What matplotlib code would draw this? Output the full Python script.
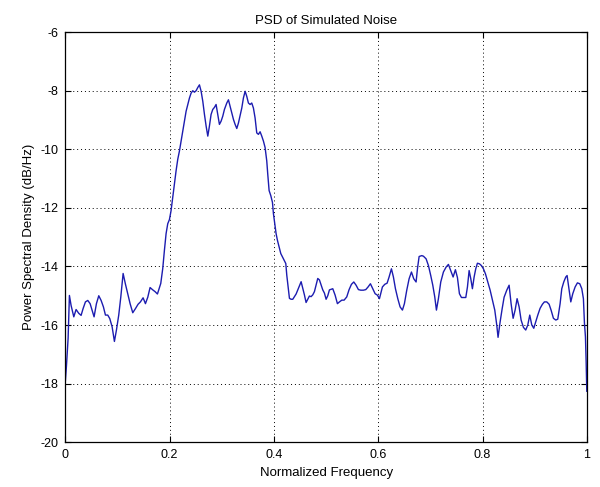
import numpy as np
import matplotlib
matplotlib.use("Agg")
import matplotlib.pyplot as plt

plt.rcParams['font.family'] = ['Liberation Sans', 'DejaVu Sans']
plt.rcParams['axes.unicode_minus'] = False

# normalized frequency and PSD (dB/Hz)
freq = [
    0.0000, 0.0020, 0.0052, 0.0077, 0.0109, 0.0161, 0.0205, 0.0256, 0.0301, 0.0339,
    0.0384, 0.0429, 0.0474, 0.0512, 0.0550, 0.0595, 0.0640, 0.0685, 0.0729, 0.0768,
    0.0812, 0.0851, 0.0896, 0.0940, 0.0979, 0.1023, 0.1062, 0.1107, 0.1151, 0.1196,
    0.1241, 0.1292, 0.1343, 0.1394, 0.1439, 0.1490, 0.1535, 0.1580, 0.1624, 0.1676,
    0.1720, 0.1765, 0.1829, 0.1867, 0.1899, 0.1931, 0.1963, 0.1995, 0.2027, 0.2059,
    0.2091, 0.2123, 0.2155, 0.2187, 0.2219, 0.2251, 0.2283, 0.2315, 0.2347, 0.2379,
    0.2411, 0.2443, 0.2475, 0.2507, 0.2539, 0.2571, 0.2603, 0.2635, 0.2667, 0.2699,
    0.2731, 0.2762, 0.2794, 0.2826, 0.2858, 0.2890, 0.2922, 0.2954, 0.2986, 0.3018,
    0.3050, 0.3095, 0.3127, 0.3159, 0.3191, 0.3223, 0.3255, 0.3287, 0.3319, 0.3351,
    0.3383, 0.3414, 0.3447, 0.3478, 0.3510, 0.3542, 0.3574, 0.3606, 0.3638, 0.3670,
    0.3702, 0.3734, 0.3766, 0.3798, 0.3830, 0.3862, 0.3881, 0.3907, 0.3939, 0.3971,
    0.3990, 0.4016, 0.4041, 0.4067, 0.4099, 0.4131, 0.4162, 0.4194, 0.4227, 0.4246,
    0.4271, 0.4297, 0.4329, 0.4361, 0.4393, 0.4425, 0.4457, 0.4489, 0.4521, 0.4553,
    0.4584, 0.4616, 0.4648, 0.4680, 0.4712, 0.4744, 0.4776, 0.4808, 0.4840, 0.4872,
    0.4904, 0.4936, 0.4968, 0.5000, 0.5032, 0.5064, 0.5128, 0.5173, 0.5217, 0.5256,
    0.5301, 0.5345, 0.5396, 0.5441, 0.5486, 0.5531, 0.5575, 0.5620, 0.5665, 0.5716,
    0.5761, 0.5805, 0.5850, 0.5895, 0.5940, 0.5984, 0.6023, 0.6048, 0.6080, 0.6125,
    0.6170, 0.6208, 0.6253, 0.6291, 0.6330, 0.6375, 0.6419, 0.6464, 0.6502, 0.6547,
    0.6592, 0.6637, 0.6681, 0.6726, 0.6752, 0.6784, 0.6835, 0.6867, 0.6918, 0.6963,
    0.7007, 0.7046, 0.7084, 0.7116, 0.7154, 0.7199, 0.7250, 0.7302, 0.7346, 0.7391,
    0.7436, 0.7480, 0.7519, 0.7557, 0.7596, 0.7640, 0.7679, 0.7711, 0.7743, 0.7775,
    0.7806, 0.7839, 0.7870, 0.7902, 0.7941, 0.7979, 0.8017, 0.8056, 0.8101, 0.8146,
    0.8190, 0.8235, 0.8273, 0.8298, 0.8337, 0.8376, 0.8414, 0.8465, 0.8510, 0.8548,
    0.8587, 0.8625, 0.8663, 0.8702, 0.8740, 0.8785, 0.8829, 0.8868, 0.8906, 0.8945,
    0.8983, 0.9021, 0.9060, 0.9104, 0.9149, 0.9187, 0.9232, 0.9277, 0.9315, 0.9360,
    0.9405, 0.9443, 0.9488, 0.9520, 0.9558, 0.9597, 0.9622, 0.9661, 0.9693, 0.9731,
    0.9776, 0.9820, 0.9865, 0.9904, 0.9935, 0.9955, 0.9974, 0.9987, 1.0000,
]
psd = [
    -17.90, -17.40, -16.45, -14.99, -15.33, -15.72, -15.47, -15.60, -15.67, -15.44,
    -15.21, -15.16, -15.27, -15.50, -15.72, -15.27, -15.00, -15.16, -15.38, -15.66,
    -15.66, -15.78, -16.06, -16.56, -16.17, -15.66, -15.05, -14.24, -14.60, -14.93,
    -15.27, -15.58, -15.44, -15.29, -15.21, -15.07, -15.27, -15.05, -14.72, -14.80,
    -14.86, -14.94, -14.58, -14.07, -13.45, -12.88, -12.54, -12.40, -12.09, -11.64,
    -11.19, -10.73, -10.34, -10.06, -9.72, -9.38, -9.04, -8.70, -8.47, -8.25,
    -8.08, -8.00, -8.05, -8.00, -7.89, -7.80, -8.02, -8.36, -8.81, -9.21,
    -9.55, -9.21, -8.81, -8.64, -8.57, -8.47, -8.81, -9.15, -9.04, -8.87,
    -8.64, -8.42, -8.31, -8.53, -8.76, -8.98, -9.15, -9.29, -9.10, -8.85,
    -8.59, -8.25, -8.02, -8.19, -8.42, -8.47, -8.42, -8.59, -8.93, -9.44,
    -9.49, -9.40, -9.55, -9.72, -9.94, -10.40, -10.85, -11.41, -11.58, -11.81,
    -12.20, -12.54, -12.88, -13.11, -13.33, -13.56, -13.67, -13.79, -13.90, -14.30,
    -14.69, -15.09, -15.12, -15.12, -15.03, -14.94, -14.80, -14.67, -14.52, -14.75,
    -14.97, -15.23, -15.12, -15.01, -15.03, -14.97, -14.86, -14.63, -14.41, -14.46,
    -14.63, -14.80, -14.91, -15.12, -15.00, -14.80, -14.76, -14.98, -15.27, -15.21,
    -15.15, -15.15, -15.04, -14.79, -14.61, -14.53, -14.64, -14.79, -14.81, -14.81,
    -14.79, -14.70, -14.59, -14.76, -14.93, -14.98, -15.10, -14.93, -14.70, -14.61,
    -14.57, -14.36, -14.08, -14.36, -14.76, -15.10, -15.38, -15.49, -15.27, -14.81,
    -14.42, -14.19, -14.42, -14.53, -14.08, -13.66, -13.63, -13.65, -13.74, -13.97,
    -14.31, -14.64, -15.04, -15.49, -15.10, -14.53, -14.19, -14.02, -13.93, -14.14,
    -14.36, -14.11, -14.38, -14.93, -15.06, -15.06, -15.06, -14.70, -14.14, -14.42,
    -14.76, -14.36, -14.08, -13.89, -13.91, -13.97, -14.08, -14.25, -14.53, -14.81,
    -15.15, -15.49, -16.00, -16.42, -15.90, -15.45, -15.05, -14.81, -14.64, -15.27,
    -15.77, -15.49, -15.10, -15.38, -15.83, -16.08, -16.17, -16.00, -15.66, -16.00,
    -16.11, -15.89, -15.66, -15.43, -15.29, -15.21, -15.21, -15.29, -15.49, -15.77,
    -15.83, -15.80, -15.27, -14.76, -14.53, -14.36, -14.31, -14.81, -15.21, -14.93,
    -14.70, -14.56, -14.59, -14.76, -15.10, -15.94, -16.40, -17.24, -18.26,
]

xticks = [0, 0.2, 0.4, 0.6, 0.8, 1]
xticklabels = ['0', '0.2', '0.4', '0.6', '0.8', '1']
yticks = [-20, -18, -16, -14, -12, -10, -8, -6]

fig = plt.figure(figsize=(6, 4.87), dpi=100)
ax = fig.add_axes([0.109, 0.092, 0.869, 0.842])

ax.plot(freq, psd, color='#1c1cb0', lw=1.0)

ax.set_xlim(0, 1)
ax.set_ylim(-20, -6)
ax.set_xticks(xticks)
ax.set_xticklabels(xticklabels)
ax.set_yticks(yticks)
ax.grid(True, color='black', linestyle=(0, (1, 3)), linewidth=0.7)
ax.tick_params(direction='in', top=True, right=True, length=4, labelsize=9, pad=5)
for s in ax.spines.values():
    s.set_linewidth(0.9)

ax.set_title('PSD of Simulated Noise', fontsize=9.5)
ax.set_xlabel('Normalized Frequency', fontsize=9.5)
ax.set_ylabel('Power Spectral Density (dB/Hz)', fontsize=9.5)

fig.savefig('out.png', dpi=100)
